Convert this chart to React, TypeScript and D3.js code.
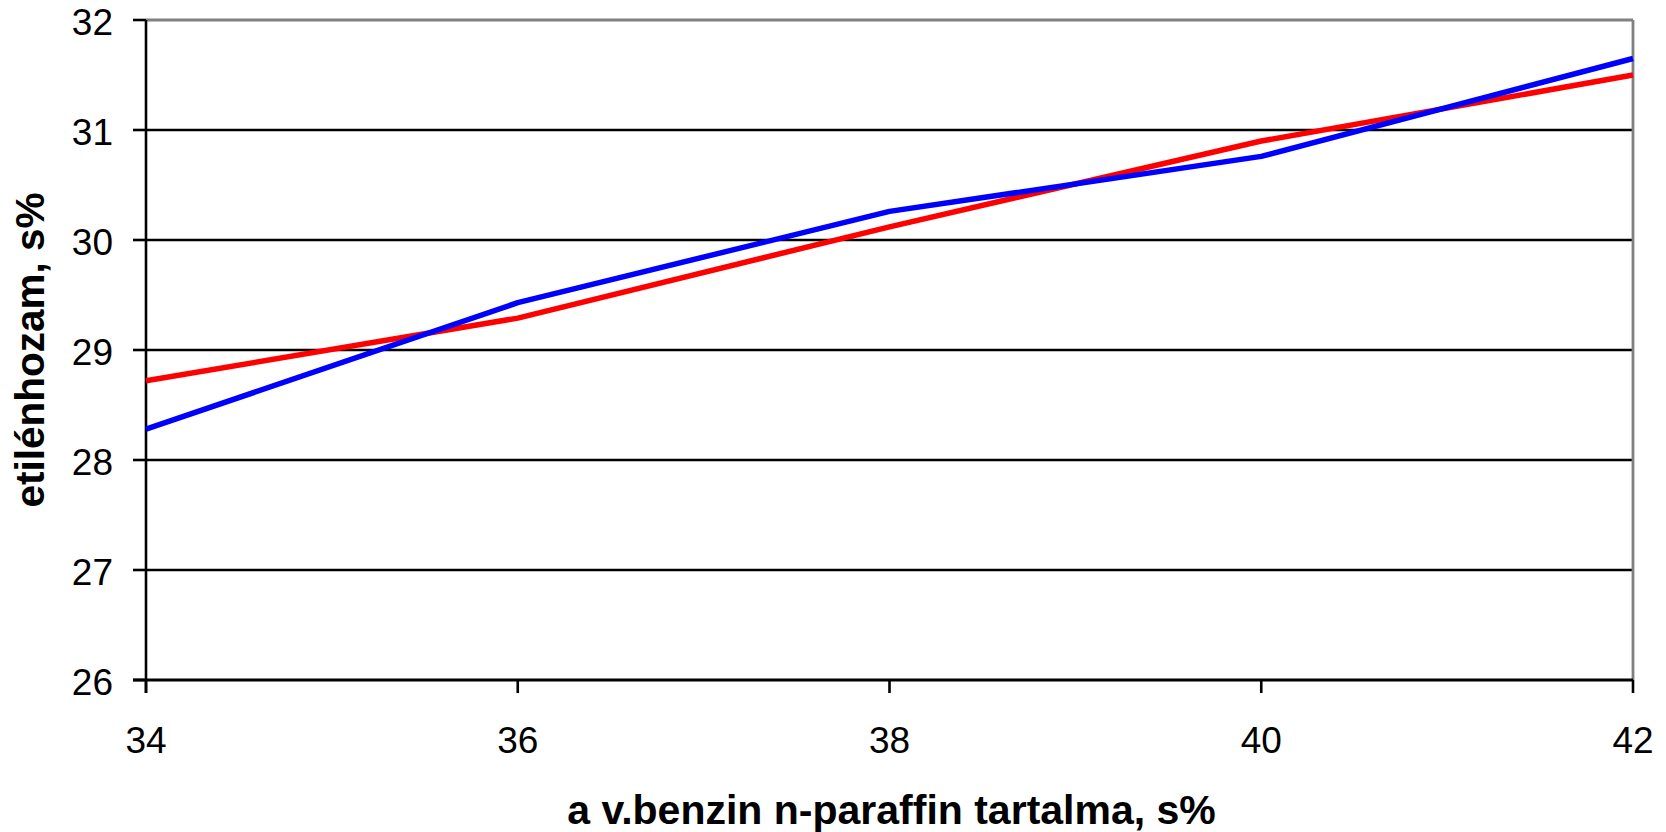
import React from "react";
import * as d3 from "d3";

const xCategories = [34, 36, 38, 40, 42];
const blueSeries = [28.28, 29.43, 30.26, 30.76, 31.65];
const redSeries = [28.72, 29.29, 30.12, 30.9, 31.5];
const yTicks = [26, 27, 28, 29, 30, 31, 32];
const xTicks = [34, 36, 38, 40, 42];
const xTitle = "a v.benzin n-paraffin tartalma, s%";
const yTitle = "etilénhozam, s%";

const W = 1666;
const H = 832;
const M = { left: 146, right: 1633, top: 20, bottom: 680 };

export default function App() {
  const x = d3.scaleLinear().domain([34, 42]).range([M.left, M.right]);
  const y = d3.scaleLinear().domain([26, 32]).range([M.bottom, M.top]);
  const line = d3
    .line<number>()
    .x((_, i) => x(xCategories[i]))
    .y((d) => y(d));
  const font = "'Liberation Sans', Arial, sans-serif";

  return (
    <svg
      width={W}
      height={H}
      style={{ position: "absolute", left: 0, top: 0, background: "#fff" }}
      fontFamily={font}
    >
      <rect x={0} y={0} width={W} height={H} fill="#fff" />
      {yTicks
        .filter((t) => t !== 26 && t !== 32)
        .map((t) => (
          <line key={"g" + t} x1={M.left} x2={M.right} y1={y(t)} y2={y(t)} stroke="#000" strokeWidth={2.4} />
        ))}
      <line x1={M.left} x2={M.right} y1={M.top} y2={M.top} stroke="#808080" strokeWidth={2.8} />
      <line x1={M.right} x2={M.right} y1={M.top} y2={M.bottom} stroke="#808080" strokeWidth={2.8} />
      <line x1={M.left} x2={M.left} y1={M.top} y2={M.bottom + 13} stroke="#000" strokeWidth={2.6} />
      <line x1={M.left - 13} x2={M.right} y1={M.bottom} y2={M.bottom} stroke="#000" strokeWidth={2.8} />
      {yTicks.map((t) => (
        <g key={"yt" + t}>
          <line x1={M.left - 13} x2={M.left} y1={y(t)} y2={y(t)} stroke="#000" strokeWidth={2.6} />
          <text x={113} y={y(t) + 15} fontSize={37} textAnchor="end" fill="#000">
            {t}
          </text>
        </g>
      ))}
      {xTicks.map((t) => (
        <g key={"xt" + t}>
          <line x1={x(t)} x2={x(t)} y1={M.bottom} y2={M.bottom + 13} stroke="#000" strokeWidth={2.6} />
          <text x={x(t)} y={753} fontSize={37} textAnchor="middle" fill="#000">
            {t}
          </text>
        </g>
      ))}
      <path d={line(redSeries) || ""} fill="none" stroke="#FF0000" strokeWidth={5.5} strokeLinejoin="round" />
      <path d={line(blueSeries) || ""} fill="none" stroke="#0000FF" strokeWidth={5.5} strokeLinejoin="round" />
      <text x={(M.left + M.right) / 2 + 2} y={824} fontSize={41} fontWeight="bold" textAnchor="middle" fill="#000">
        {xTitle}
      </text>
      <text
        transform={`translate(44, ${(M.top + M.bottom) / 2}) rotate(-90)`}
        fontSize={40.5}
        fontWeight="bold"
        textAnchor="middle"
        fill="#000"
      >
        {yTitle}
      </text>
    </svg>
  );
}
